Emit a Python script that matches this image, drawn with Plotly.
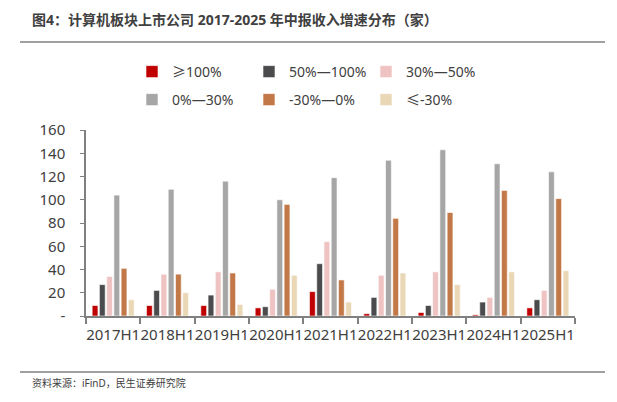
import plotly.graph_objects as go

categories = ["2017H1", "2018H1", "2019H1", "2020H1", "2021H1", "2022H1", "2023H1", "2024H1", "2025H1"]
s_ge100 = [9, 9, 9, 7, 21, 2, 3, 1, 7]
s_50_100 = [27, 22, 18, 8, 45, 16, 9, 12, 14]
s_30_50 = [34, 36, 38, 23, 64, 35, 38, 16, 22]
s_0_30 = [104, 109, 116, 100, 119, 134, 143, 131, 124]
s_m30_0 = [41, 36, 37, 96, 31, 84, 89, 108, 101]
s_le_m30 = [14, 20, 10, 35, 12, 37, 27, 38, 39]

series_names = ["≥100%", "50%—100%", "30%—50%", "0%—30%", "-30%—0%", "≤-30%"]
series_vals = [s_ge100, s_50_100, s_30_50, s_0_30, s_m30_0, s_le_m30]
colors = ["#C00000", "#4B4B4D", "#F0C3C3", "#A6A6A6", "#C27847", "#EAD7B5"]

W, H = 617, 402
L, R, T, B = 86, 42, 130, 86
pw, ph = W - L - R, H - T - B

def px(x):
    return (x - L) / pw

def py(y):
    return (H - B - y) / ph

fig = go.Figure()
for i, (n, v, c) in enumerate(zip(series_names, series_vals, colors)):
    fig.add_trace(go.Bar(
        x=categories, y=v, name=n,
        marker=dict(color=c, line=dict(color="white", width=0.6)),
        legend="legend" if i < 3 else "legend2",
    ))

font_main = "Noto Sans, Noto Sans CJK SC, sans-serif"
leg_common = dict(
    orientation="h", xref="paper", yref="paper", xanchor="left", yanchor="middle",
    font=dict(family="Noto Sans, Noto Sans CJK SC, sans-serif", size=14, color="#404040"),
    entrywidth=72, entrywidthmode="pixels", itemwidth=30,
    bgcolor="rgba(0,0,0,0)", traceorder="normal",
)

fig.update_layout(
    width=W, height=H,
    margin=dict(l=L, r=R, t=T, b=B, autoexpand=False),
    plot_bgcolor="white", paper_bgcolor="white",
    barmode="group", bargap=0.2, bargroupgap=0.2,
    legend=dict(x=px(132), y=py(72), **leg_common),
    legend2=dict(x=px(132), y=py(100), **leg_common),
    xaxis=dict(
        showline=True, linecolor="#808080", linewidth=1.5,
        ticks="outside", tickson="boundaries", ticklen=6, tickcolor="#808080", tickwidth=1.5,
        tickfont=dict(family="Noto Sans, sans-serif", size=15, color="#404040"),
        tickangle=0, showgrid=False, automargin=False, ticklabelstandoff=4,
    ),
    yaxis=dict(
        range=[0, 160], tickvals=[0, 20, 40, 60, 80, 100, 120, 140, 160],
        ticktext=["-", "20", "40", "60", "80", "100", "120", "140", "160"],
        showline=True, linecolor="#808080", linewidth=1.5,
        ticks="outside", ticklen=4, tickcolor="#808080",
        tickfont=dict(family="Noto Sans, sans-serif", size=15, color="#404040"),
        showgrid=False, zeroline=False, automargin=False, ticklabelstandoff=12,
    ),
    annotations=[
        dict(text="<b>图4：计算机板块上市公司 2017-2025 年中报收入增速分布（家）</b>",
             xref="paper", yref="paper", x=px(30), y=py(19), xanchor="left", yanchor="middle",
             showarrow=False, font=dict(family=font_main, size=14, color="#404040")),
        dict(text="资料来源：iFinD，民生证券研究院",
             xref="paper", yref="paper", x=px(30), y=py(383), xanchor="left", yanchor="middle",
             showarrow=False, font=dict(family=font_main, size=10, color="#404040")),
    ],
    shapes=[
        dict(type="line", xref="paper", yref="paper", x0=px(20), x1=px(605), y0=py(42), y1=py(42),
             line=dict(color="#808080", width=1.5)),
        dict(type="line", xref="paper", yref="paper", x0=px(20), x1=px(605), y0=py(372), y1=py(372),
             line=dict(color="#808080", width=1.5)),
    ],
)

fig.write_html("out.html", config={"displayModeBar": False},
               post_script="document.body.style.margin='0';document.body.style.overflow='hidden';")
